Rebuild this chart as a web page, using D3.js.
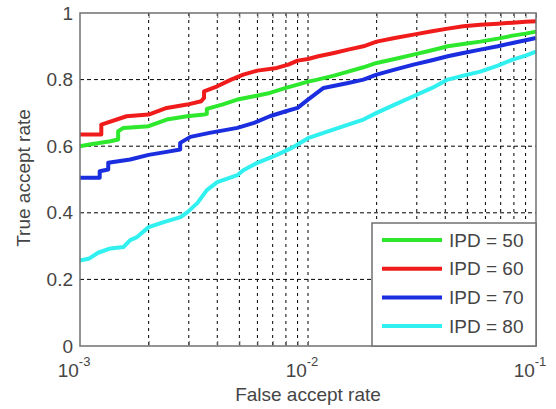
<!DOCTYPE html>
<html>
<head>
<meta charset="utf-8">
<script src="https://cdn.jsdelivr.net/npm/d3@7"></script>
<style>
  body { margin: 0; background: #fff; }
  text { font-family: "Liberation Sans", Arial, sans-serif; fill: #454545; }
</style>
</head>
<body>
<div id="chart"></div>
<script>
// x ticks (decades) and y ticks
const xDecades = [-3, -2, -1];
const yTicks = [0, 0.2, 0.4, 0.6, 0.8, 1];

// curves: false accept rate -> true accept rate
// (a repeated rate marks a visible jump in the curve)
const ipd50Far = [1e-3, 1.1e-3, 1.36e-3, 1.47e-3, 1.47e-3, 1.55e-3, 2e-3, 2.4e-3, 2.95e-3, 3.5e-3, 3.6e-3, 3.6e-3, 4.2e-3, 4.9e-3, 5.8e-3, 6.8e-3, 8e-3, 9e-3, 1e-2, 1.1e-2, 1.3e-2, 1.5e-2, 1.75e-2, 2e-2, 2.4e-2, 2.9e-2, 3.5e-2, 4.1e-2, 4.8e-2, 5.7e-2, 6.8e-2, 7.9e-2, 9e-2, 1e-1];
const ipd50Tar = [0.60, 0.605, 0.615, 0.62, 0.645, 0.655, 0.66, 0.68, 0.69, 0.695, 0.697, 0.712, 0.725, 0.74, 0.75, 0.76, 0.775, 0.785, 0.794, 0.80, 0.812, 0.824, 0.837, 0.85, 0.862, 0.875, 0.888, 0.90, 0.907, 0.914, 0.923, 0.932, 0.938, 0.944];

const ipd60Far = [1e-3, 1.24e-3, 1.24e-3, 1.6e-3, 2e-3, 2.4e-3, 2.95e-3, 3.4e-3, 3.5e-3, 3.5e-3, 4e-3, 4.6e-3, 5.2e-3, 6e-3, 7.3e-3, 8.2e-3, 9e-3, 1e-2, 1.11e-2, 1.3e-2, 1.5e-2, 1.75e-2, 2e-2, 2.4e-2, 2.9e-2, 3.5e-2, 4.1e-2, 4.8e-2, 5.7e-2, 6.8e-2, 7.9e-2, 9e-2, 1e-1];
const ipd60Tar = [0.635, 0.635, 0.665, 0.69, 0.695, 0.715, 0.725, 0.735, 0.745, 0.765, 0.78, 0.80, 0.815, 0.827, 0.835, 0.845, 0.857, 0.862, 0.87, 0.88, 0.89, 0.90, 0.914, 0.925, 0.935, 0.945, 0.953, 0.96, 0.965, 0.968, 0.971, 0.974, 0.975];

const ipd70Far = [1e-3, 1.22e-3, 1.22e-3, 1.33e-3, 1.33e-3, 1.66e-3, 2e-3, 2.4e-3, 2.75e-3, 2.75e-3, 3.05e-3, 3.7e-3, 4.9e-3, 5.8e-3, 6.8e-3, 8e-3, 9e-3, 1e-2, 1.17e-2, 1.5e-2, 1.75e-2, 2e-2, 2.4e-2, 2.9e-2, 3.5e-2, 4.1e-2, 4.8e-2, 5.7e-2, 6.8e-2, 7.9e-2, 9e-2, 1e-1];
const ipd70Tar = [0.505, 0.505, 0.525, 0.53, 0.55, 0.56, 0.574, 0.583, 0.59, 0.61, 0.628, 0.64, 0.655, 0.67, 0.69, 0.705, 0.715, 0.74, 0.775, 0.79, 0.80, 0.815, 0.83, 0.845, 0.858, 0.87, 0.88, 0.89, 0.90, 0.91, 0.918, 0.925];

const ipd80Far = [1e-3, 1.1e-3, 1.2e-3, 1.36e-3, 1.55e-3, 1.66e-3, 1.78e-3, 2e-3, 2.33e-3, 2.76e-3, 2.96e-3, 3.27e-3, 3.6e-3, 4e-3, 4.9e-3, 5.2e-3, 6e-3, 7.3e-3, 8.5e-3, 9.5e-3, 1e-2, 1.17e-2, 1.49e-2, 1.75e-2, 2e-2, 2.4e-2, 2.9e-2, 3.5e-2, 4.1e-2, 4.8e-2, 5.7e-2, 6.8e-2, 7.9e-2, 9e-2, 1e-1];
const ipd80Tar = [0.257, 0.263, 0.28, 0.293, 0.297, 0.318, 0.327, 0.357, 0.372, 0.387, 0.402, 0.429, 0.468, 0.492, 0.513, 0.528, 0.55, 0.574, 0.595, 0.615, 0.624, 0.64, 0.664, 0.68, 0.70, 0.725, 0.75, 0.775, 0.80, 0.812, 0.824, 0.842, 0.86, 0.872, 0.884];

const seriesNames = ['IPD = 50', 'IPD = 60', 'IPD = 70', 'IPD = 80'];
const seriesColors = ['#2ee82e', '#f01c1c', '#1a2ee0', '#30f0f0'];
const seriesData = [
    [ipd50Far, ipd50Tar],
    [ipd60Far, ipd60Tar],
    [ipd70Far, ipd70Tar],
    [ipd80Far, ipd80Tar]
];

const width = 556;
const height = 409;
const margin = {top: 13, right: 20, bottom: 63, left: 80};
const plotW = width - margin.left - margin.right;
const plotH = height - margin.top - margin.bottom;

const svg = d3.select('#chart')
    .append('svg')
    .attr('width', width)
    .attr('height', height);

const g = svg.append('g')
    .attr('transform', `translate(${margin.left}, ${margin.top})`);

const x = d3.scaleLog()
    .domain([1e-3, 1e-1])
    .range([0, plotW]);

const y = d3.scaleLinear()
    .domain([0, 1])
    .range([plotH, 0]);

// every minor/major grid position on the log axis
const xGrid = [];
for (let e = -3; e < -1; e++) {
    for (let k = 2; k <= 10; k++) xGrid.push(k * Math.pow(10, e));
}

// grid lines
g.append('g')
    .selectAll('line')
    .data(xGrid.filter(v => v < 0.099))
    .enter()
    .append('line')
    .attr('x1', d => x(d))
    .attr('x2', d => x(d))
    .attr('y1', 0)
    .attr('y2', plotH)
    .attr('stroke', '#000')
    .attr('stroke-width', 1)
    .attr('stroke-dasharray', '3,4');

g.append('g')
    .selectAll('line')
    .data(yTicks.filter(v => v > 0 && v < 1))
    .enter()
    .append('line')
    .attr('x1', 0)
    .attr('x2', plotW)
    .attr('y1', d => y(d))
    .attr('y2', d => y(d))
    .attr('stroke', '#000')
    .attr('stroke-width', 1)
    .attr('stroke-dasharray', '4,3');

// curves
const line = d3.line()
    .x(d => x(d[0]))
    .y(d => y(d[1]));

seriesData.forEach((s, i) => {
    const pts = s[0].map((v, j) => [v, s[1][j]]);
    g.append('path')
        .datum(pts)
        .attr('d', line)
        .attr('fill', 'none')
        .attr('stroke', seriesColors[i])
        .attr('stroke-width', 4)
        .attr('stroke-linejoin', 'round');
});

// frame
g.append('rect')
    .attr('width', plotW)
    .attr('height', plotH)
    .attr('fill', 'none')
    .attr('stroke', '#707070')
    .attr('stroke-width', 1.5);

// tick marks (inside, top and bottom)
const xAxisB = d3.axisBottom(x).tickValues(xGrid).tickSize(-5).tickFormat('');
const xAxisT = d3.axisTop(x).tickValues(xGrid).tickSize(-5).tickFormat('');
g.append('g').attr('transform', `translate(0, ${plotH})`).call(xAxisB)
    .call(a => a.select('.domain').remove())
    .selectAll('line').attr('stroke', '#707070');
g.append('g').call(xAxisT)
    .call(a => a.select('.domain').remove())
    .selectAll('line').attr('stroke', '#707070');

// y tick labels
g.append('g')
    .selectAll('text')
    .data(yTicks)
    .enter()
    .append('text')
    .attr('x', -7)
    .attr('y', d => y(d))
    .attr('dy', '0.35em')
    .attr('text-anchor', 'end')
    .style('font-size', '19px')
    .text(d => d3.format('~g')(d));

// x tick labels 10^n
const xl = g.append('g')
    .selectAll('text')
    .data(xDecades)
    .enter()
    .append('text')
    .attr('x', d => x(Math.pow(10, d)) - 6)
    .attr('y', plotH + 31)
    .attr('text-anchor', 'middle')
    .style('font-size', '19px');
xl.append('tspan').text('10');
xl.append('tspan')
    .attr('dy', -11)
    .style('font-size', '13px')
    .text(d => '-' + Math.abs(d));

// axis titles
svg.append('text')
    .attr('x', margin.left + x(1e-2))
    .attr('y', 401)
    .attr('text-anchor', 'middle')
    .style('font-size', '19px')
    .text('False accept rate');

svg.append('text')
    .attr('transform', 'translate(30, 178) rotate(-90)')
    .attr('text-anchor', 'middle')
    .style('font-size', '19px')
    .text('True accept rate');

// legend
const legW = 164;
const legH = 123;
const legend = g.append('g')
    .attr('transform', `translate(${plotW - legW}, ${plotH - legH})`);

legend.append('rect')
    .attr('width', legW)
    .attr('height', legH)
    .attr('fill', '#fff')
    .attr('stroke', '#707070')
    .attr('stroke-width', 1.5);

const items = legend.selectAll('.item')
    .data(seriesNames)
    .enter()
    .append('g')
    .attr('transform', (d, i) => `translate(0, ${17 + i * 28.7})`);

items.append('line')
    .attr('x1', 10)
    .attr('x2', 70)
    .attr('stroke', (d, i) => seriesColors[i])
    .attr('stroke-width', 4);

items.append('text')
    .attr('x', 77)
    .attr('dy', '0.35em')
    .style('font-size', '19px')
    .text(d => d);
</script>
</body>
</html>
